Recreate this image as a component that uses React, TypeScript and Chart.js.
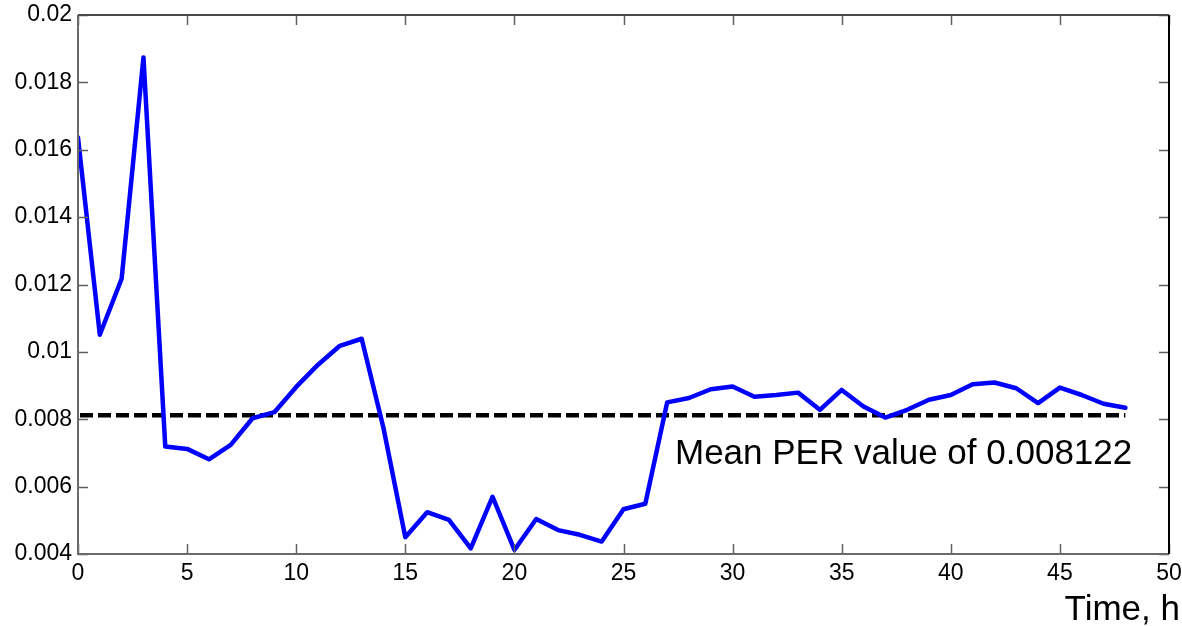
import React, { useEffect, useRef } from "react";
import { Chart, registerables } from "chart.js";

Chart.register(...registerables);

const hours = [
  0, 1, 2, 3, 4, 5, 6, 7, 8, 9, 10, 11, 12, 13, 14, 15, 16, 17, 18, 19, 20, 21, 22, 23, 24,
  25, 26, 27, 28, 29, 30, 31, 32, 33, 34, 35, 36, 37, 38, 39, 40, 41, 42, 43, 44, 45, 46, 47, 48,
];

const perValues = [
  0.01636, 0.01051, 0.01217, 0.01874, 0.00719, 0.00712, 0.00681, 0.00724, 0.00803, 0.00821,
  0.00896, 0.00962, 0.01018, 0.01039, 0.00774, 0.0045, 0.00524, 0.00501, 0.00417, 0.0057,
  0.00412, 0.00504, 0.00471, 0.00457, 0.00437, 0.00533, 0.00549, 0.0085, 0.00863, 0.00889,
  0.00897, 0.00867, 0.00872, 0.00879, 0.00828, 0.00887, 0.00838, 0.00805, 0.00828, 0.00858,
  0.00872, 0.00904, 0.00909, 0.00892, 0.00848, 0.00894, 0.00872, 0.00846, 0.00834,
];

const meanPER = 0.008122;
const meanSpan = [0, 48];

const xTicks = [0, 5, 10, 15, 20, 25, 30, 35, 40, 45, 50];
const yTicks = [0.004, 0.006, 0.008, 0.01, 0.012, 0.014, 0.016, 0.018, 0.02];

const annotationText = "Mean PER value of 0.008122";
const annotationAt = { x: 27.36, y: 0.006675 };
const axisTitle = "Time, h";

const FONT = '"Liberation Sans", Arial, Helvetica, sans-serif';

const framePlugin = {
  id: "matlabFrame",
  afterDatasetsDraw(chart: any) {
    const { ctx, chartArea, scales } = chart;
    const { left, right, top, bottom } = chartArea;
    const xs = scales.x;
    const ys = scales.y;
    ctx.save();
    // inward ticks
    ctx.strokeStyle = "#606060";
    ctx.lineWidth = 1.5;
    const tl = 10;
    ctx.beginPath();
    for (const t of xTicks) {
      const px = Math.round(xs.getPixelForValue(t)) + 0.5;
      ctx.moveTo(px, bottom);
      ctx.lineTo(px, bottom - tl);
      ctx.moveTo(px, top);
      ctx.lineTo(px, top + tl);
    }
    for (const t of yTicks) {
      const py = Math.round(ys.getPixelForValue(t)) + 0.5;
      ctx.moveTo(left, py);
      ctx.lineTo(left + tl, py);
      ctx.moveTo(right, py);
      ctx.lineTo(right - tl, py);
    }
    ctx.stroke();
    // frame
    ctx.lineWidth = 2;
    ctx.strokeStyle = "#6a6a6a";
    ctx.beginPath();
    ctx.moveTo(left, top);
    ctx.lineTo(left, bottom);
    ctx.lineTo(right, bottom);
    ctx.stroke();
    ctx.strokeStyle = "#4a4a4a";
    ctx.beginPath();
    ctx.moveTo(left, top);
    ctx.lineTo(right, top);
    ctx.stroke();
    ctx.strokeStyle = "#000000";
    ctx.beginPath();
    ctx.moveTo(right, top);
    ctx.lineTo(right, bottom);
    ctx.stroke();

    // annotation text
    ctx.fillStyle = "#000000";
    ctx.font = `35px ${FONT}`;
    ctx.textAlign = "left";
    ctx.textBaseline = "alphabetic";
    ctx.fillText(annotationText, xs.getPixelForValue(annotationAt.x), ys.getPixelForValue(annotationAt.y));

    // axis title
    ctx.textAlign = "right";
    ctx.fillText(axisTitle, chart.width - 2, chart.height - 6);
    ctx.restore();
  },
};

export default function App() {
  const canvasRef = useRef<HTMLCanvasElement | null>(null);

  useEffect(() => {
    const canvas = canvasRef.current;
    if (!canvas) return;
    const chart = new Chart(canvas, {
      type: "line",
      data: {
        datasets: [
          {
            label: "PER",
            data: hours.map((h, i) => ({ x: h, y: perValues[i] })),
            borderColor: "#0000ff",
            backgroundColor: "#0000ff",
            borderWidth: 4.5,
            pointRadius: 0,
            tension: 0,
            borderJoinStyle: "round",
            borderCapStyle: "round",
          },
          {
            label: "Mean",
            data: meanSpan.map((h) => ({ x: h, y: meanPER })),
            borderColor: "#000000",
            backgroundColor: "#000000",
            borderWidth: 4.5,
            borderDash: [13, 5],
            borderDashOffset: -2,
            pointRadius: 0,
            tension: 0,
          },
        ],
      },
      options: {
        animation: false,
        responsive: false,
        maintainAspectRatio: false,
        layout: { padding: { left: 0, top: 15, right: 13, bottom: 0 } },
        plugins: {
          legend: { display: false },
          tooltip: { enabled: false },
          title: { display: false },
        },
        scales: {
          x: {
            type: "linear",
            min: 0,
            max: 50,
            afterFit: (s: any) => {
              s.height = 72;
              s.paddingLeft = 0;
              s.paddingRight = 0;
            },
            afterBuildTicks: (s: any) => {
              s.ticks = xTicks.map((v) => ({ value: v }));
            },
            grid: { display: false, drawTicks: false },
            border: { display: false },
            ticks: {
              padding: 6,
              color: "#000000",
              font: { family: FONT, size: 23 },
              maxRotation: 0,
              autoSkip: false,
              callback: (v: any) => String(v),
            },
          },
          y: {
            type: "linear",
            min: 0.004,
            max: 0.02,
            afterFit: (s: any) => {
              s.width = 78;
              s.paddingTop = 0;
              s.paddingBottom = 0;
            },
            afterBuildTicks: (s: any) => {
              s.ticks = yTicks.map((v) => ({ value: v }));
            },
            grid: { display: false, drawTicks: false },
            border: { display: false },
            ticks: {
              padding: 6,
              color: "#000000",
              font: { family: FONT, size: 23 },
              autoSkip: false,
              callback: (v: any) => String(Number(Number(v).toFixed(3))),
            },
          },
        },
      },
      plugins: [framePlugin],
    } as any);
    return () => chart.destroy();
  }, []);

  return (
    <div style={{ position: "fixed", left: 0, top: 0, width: 1182, height: 626, background: "#ffffff" }}>
      <canvas ref={canvasRef} width={1182} height={626} style={{ display: "block" }} />
    </div>
  );
}
